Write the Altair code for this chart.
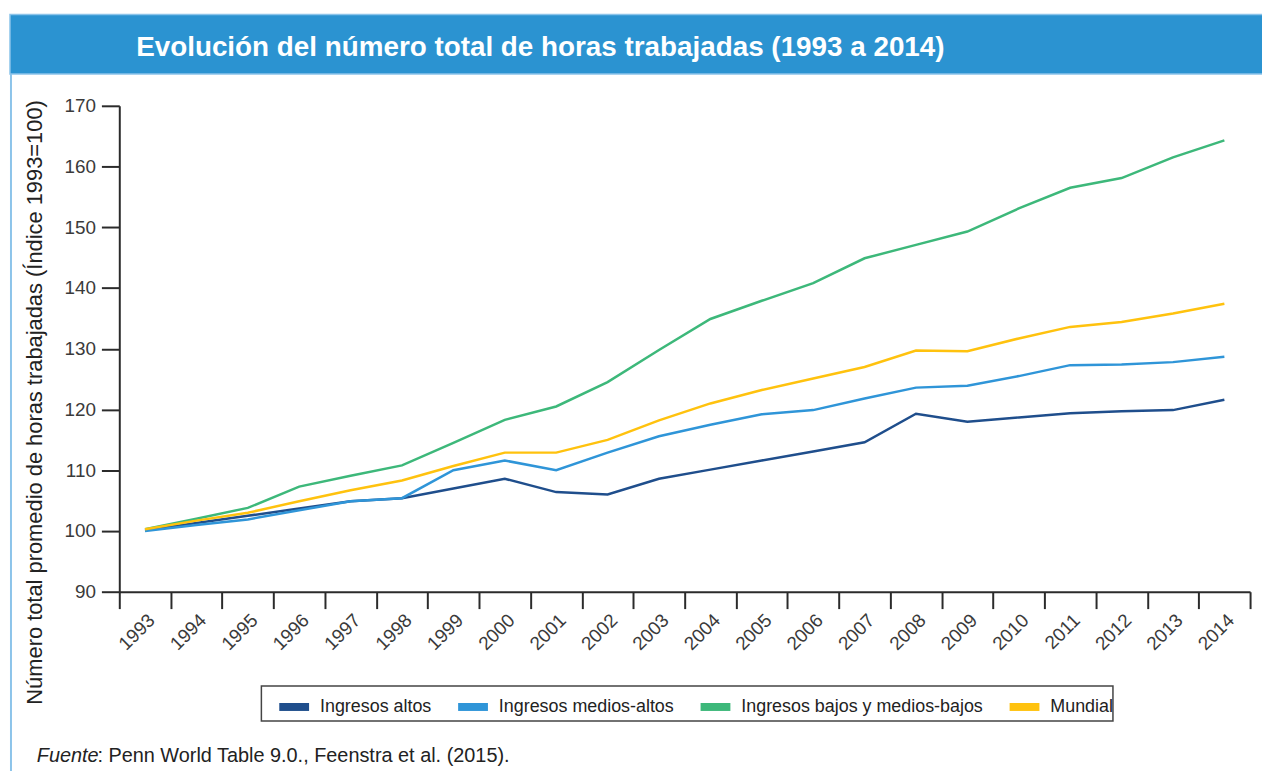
import altair as alt
import pandas as pd

years = list(range(1993, 2015))
series_names = ["Ingresos altos", "Ingresos medios-altos",
                "Ingresos bajos y medios-bajos", "Mundial"]
series_colors = ["#1F4E8C", "#2F95D8", "#3DB87A", "#FFC20E"]

altos = [100.1, 101.3, 102.5, 103.7, 104.9, 105.4, 107.0, 108.6, 106.4, 106.0, 108.6,
         110.1, 111.6, 113.1, 114.6, 119.3, 118.0, 118.7, 119.4, 119.7, 119.9, 121.6]
medios_altos = [100.0, 101.0, 101.9, 103.4, 104.9, 105.4, 110.0, 111.6, 110.0, 112.9, 115.6,
                117.5, 119.2, 119.9, 121.8, 123.6, 123.9, 125.5, 127.3, 127.4, 127.8, 128.7]
bajos = [100.3, 102.0, 103.8, 107.3, 109.1, 110.8, 114.5, 118.3, 120.5, 124.5, 129.8,
         134.9, 137.9, 140.8, 144.9, 147.1, 149.3, 153.1, 156.5, 158.1, 161.5, 164.3]
mundial = [100.3, 101.7, 103.0, 104.9, 106.7, 108.3, 110.7, 112.9, 112.9, 115.0, 118.2,
           121.0, 123.2, 125.1, 127.0, 129.7, 129.6, 131.7, 133.6, 134.4, 135.8, 137.4]

y_ticks = list(range(90, 171, 10))

title_text = "Evolución del número total de horas trabajadas (1993 a 2014)"
y_title = "Número total promedio de horas trabajadas (Índice 1993=100)"
source_italic = "Fuente"
source_rest = ": Penn World Table 9.0., Feenstra et al. (2015)."

rows = []
for name, vals in zip(series_names, [altos, medios_altos, bajos, mundial]):
    for yr, v in zip(years, vals):
        rows.append({"year": str(yr), "value": v, "serie": name})
df = pd.DataFrame(rows)

FONT = "Liberation Sans"
W, H = 1138, 489
dummy = pd.DataFrame({"a": [0]})

header = alt.Chart(dummy).mark_rect(color="#2B93D1", stroke="#8CC4EA", strokeWidth=1.5).encode(
    x=alt.value(-110), x2=alt.value(1170), y=alt.value(-92), y2=alt.value(-32))
border = alt.Chart(dummy).mark_rule(color="#8CC4EA", strokeWidth=2).encode(
    x=alt.value(-109), y=alt.value(-32), y2=alt.value(700))
title = alt.Chart(dummy).mark_text(
    text=title_text, align="left", baseline="alphabetic", font=FONT,
    fontSize=28, fontWeight="bold", color="white").encode(
    x=alt.value(17), y=alt.value(-50))

legend_box = alt.Chart(dummy).mark_rect(fill="white", stroke="#444444", strokeWidth=1.5).encode(
    x=alt.value(143), x2=alt.value(1000), y=alt.value(584), y2=alt.value(619))

lines = alt.Chart(df).mark_line(strokeWidth=2.5).encode(
    x=alt.X("year:O", bandPosition=0.5,
            scale=alt.Scale(type="band", paddingInner=0, paddingOuter=0),
            axis=alt.Axis(title=None, tickBand="extent", labelAngle=-45, labelAlign="right",
                          labelBaseline="top", tickSize=17, tickWidth=2, domainWidth=2,
                          domainColor="#2B2B2B", tickColor="#2B2B2B", labelColor="#3A3A3A",
                          labelFontSize=19, labelFont=FONT, labelPadding=2)),
    y=alt.Y("value:Q", scale=alt.Scale(domain=[90, 170], nice=False, zero=False),
            axis=alt.Axis(values=y_ticks, title=y_title, tickSize=18, tickWidth=2,
                          domainWidth=2, domainColor="#2B2B2B", tickColor="#2B2B2B",
                          labelColor="#3A3A3A", labelFontSize=19, labelFont=FONT,
                          labelPadding=6, grid=False,
                          titleFont=FONT, titleFontSize=22, titleFontWeight="normal",
                          titleColor="#222222", titleAngle=270, titleX=-85, titleY=298,
                          titleAlign="center", titleBaseline="middle")),
    color=alt.Color("serie:N",
                    scale=alt.Scale(domain=series_names, range=series_colors),
                    legend=alt.Legend(orient="none", legendX=157, legendY=586,
                                      direction="horizontal", title=None,
                                      labelFont=FONT, labelFontSize=18, labelColor="#222222",
                                      labelLimit=600,
                                      symbolType="M-1,0H1", symbolSize=900,
                                      symbolStrokeWidth=8, labelOffset=7,
                                      columnPadding=10, padding=0)),
    order=alt.Order("serie:N"),
)

src1 = alt.Chart(dummy).mark_text(
    text=source_italic, align="left", baseline="alphabetic", font=FONT,
    fontSize=20, fontStyle="italic", color="#222222").encode(
    x=alt.value(-83), y=alt.value(660))
src2 = alt.Chart(dummy).mark_text(
    text=source_rest, align="left", baseline="alphabetic", font=FONT,
    fontSize=20, color="#222222").encode(
    x=alt.value(-22), y=alt.value(660))

chart = alt.layer(header, border, title, legend_box, lines, src1, src2).properties(
    width=W, height=H,
    autosize=alt.AutoSizeParams(type="none"),
    padding={"left": 112, "top": 96, "right": 12, "bottom": 178},
    background="white",
).configure_view(strokeWidth=0)

chart.save("out.html", embed_options={"renderer": "svg", "actions": False})
